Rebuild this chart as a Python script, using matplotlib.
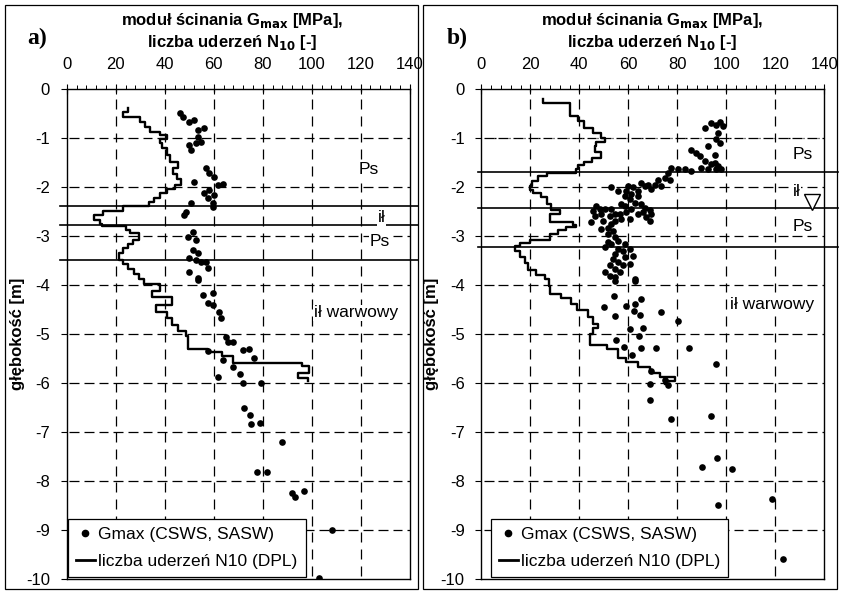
import numpy as np
import matplotlib
matplotlib.use("Agg")
import matplotlib.pyplot as plt
from matplotlib.lines import Line2D
from matplotlib.patches import Rectangle
from matplotlib.collections import LineCollection
from matplotlib.ticker import MultipleLocator

plt.rcParams['font.family'] = ['Liberation Sans', 'DejaVu Sans']
plt.rcParams['axes.unicode_minus'] = False

##### data (depth in m, positive downwards)
# panel a) DPL N10 profile: top of each step and its value
a_dpl_top = [0.39, 0.46, 0.58, 0.67, 0.77, 0.87, 0.94, 1.02, 1.10, 1.21, 1.35, 1.48, 1.62, 1.74,
             1.84, 1.95, 2.04, 2.12, 2.22, 2.30, 2.38, 2.48, 2.58, 2.68, 2.76, 2.80, 2.88, 2.94,
             3.08, 3.16, 3.24, 3.34, 3.48, 3.58, 3.68, 3.78, 3.88, 3.98, 4.12, 4.24, 4.40, 4.55,
             4.68, 4.82, 4.93, 5.04, 5.30, 5.37, 5.45, 5.59, 5.65, 5.80, 5.90]
a_dpl_n10 = [25, 23, 30, 32, 34, 38, 41, 38, 39, 41, 42, 45.5, 43.5, 45,
             46.5, 44, 41, 38, 35.5, 33.5, 23, 15, 11, 13.6, 14.5, 24, 26, 29.5,
             27, 25, 23, 21.5, 23, 25, 27.5, 29.5, 31.5, 38, 35, 43, 36.5, 41,
             43, 45.5, 48.5, 49.5, 57.5, 63.5, 68, 96, 99, 94.5, 98.5]
a_dpl_end = 5.96

# panel a) Gmax (CSWS, SASW)
a_gmax = [46.3, 47.5, 50, 52, 53.7, 56.1, 53.7, 54.9, 52.9, 50, 50.8, 57, 58.2, 60.2, 52, 61.9,
          63.9, 58.2, 56.1, 60.2, 57.8, 59.8, 50.8, 48.8, 48, 59.8, 51.6, 49.6, 52.9, 51.6, 53.7,
          50, 52.9, 54.9, 57, 57.8, 50, 53.7, 53.7, 55.7, 59.8, 57.8, 59.8, 62.3, 63.1, 65.2, 66,
          68, 72.1, 74.6, 76.6, 57.8, 63.9, 68, 70.9, 61.9, 72.1, 79.5, 72.5, 75, 75.4, 78.7,
          87.7, 77.5, 81.6, 91.8, 93, 96.7, 108.2, 102.8]
a_gmax_depth = [0.49, 0.57, 0.67, 0.63, 0.84, 0.80, 0.98, 1.08, 1.10, 1.14, 1.24, 1.61, 1.71, 1.80,
                1.90, 1.96, 1.94, 2.06, 2.12, 2.16, 2.22, 2.33, 2.33, 2.51, 2.57, 2.41, 2.92, 3.02,
                3.08, 3.29, 3.35, 3.45, 3.49, 3.53, 3.53, 3.65, 3.73, 3.86, 3.90, 4.20, 4.17, 4.37,
                4.41, 4.55, 4.67, 5.06, 5.16, 5.16, 5.33, 5.31, 5.49, 5.35, 5.53, 5.67, 5.82, 5.88,
                6.00, 6.00, 6.51, 6.65, 6.84, 6.82, 7.20, 7.82, 7.82, 8.25, 8.33, 8.20, 9.00, 9.98]

# panel a) layer boundaries and names
a_layers = [2.38, 2.78, 3.49]
a_layer_names = ['Ps', 'ił', 'Ps', 'ił warwowy']
a_name_x = [119, 127, 123.5, 101]
a_name_depth = [1.65, 2.62, 3.12, 4.57]

# panel b) DPL N10 profile
b_dpl_top = [0.20, 0.29, 0.56, 0.66, 0.80, 0.90, 1.00, 1.08, 1.17, 1.28, 1.40, 1.48, 1.56, 1.63,
             1.71, 1.78, 1.88, 1.98, 2.06, 2.13, 2.20, 2.35, 2.46, 2.56, 2.71, 2.77, 2.82, 2.88,
             2.96, 3.08, 3.14, 3.20, 3.30, 3.42, 3.56, 3.70, 3.80, 3.88, 4.02, 4.18, 4.26, 4.38,
             4.52, 4.66, 4.80, 4.88, 5.00, 5.22, 5.30, 5.48, 5.58, 5.68, 5.80, 5.88, 5.96]
b_dpl_n10 = [25, 36, 39.5, 42, 45.5, 49, 50.5, 47, 46.5, 49, 45, 42, 39.5, 38.5,
             27, 23, 20.5, 19.7, 21, 24.5, 27, 28.5, 32, 28, 37.5, 38.5, 34.5, 31.5,
             28, 20, 15.7, 13.6, 15.7, 17.7, 19.1, 22.5, 26, 27.5, 28, 32.5, 36.5, 39,
             43.5, 45.5, 47.5, 45.5, 44.2, 51.5, 55.8, 59, 64, 68.7, 72.8, 79, 75]
b_dpl_end = 6.02

# panel b) Gmax (CSWS, SASW)
b_gmax = [91.2, 93.9, 95.9, 97.3, 98.7, 96.6, 95.9, 97.3, 92.5, 85.7, 87.8, 89.1, 95.3, 91.2,
          93.9, 96.6, 89.8, 92.5, 95.9, 98.0, 95.3, 77.6, 80.3, 83.0, 85.7, 76.2, 74.9, 76.9,
          72.1, 70.8, 73.5, 68.0, 69.4, 65.3, 66.7, 64.0, 61.9, 59.9, 59.2, 61.2, 64.0, 58.5,
          55.8, 53.1, 60.6, 62.6, 65.3, 66.7, 68.7, 69.4, 66.0, 67.3, 68.7, 64.0, 61.2, 58.5,
          57.1, 59.2, 56.5, 60.6, 57.1, 54.4, 53.1, 50.4, 52.4, 54.4, 53.1, 51.7, 49.0, 48.3,
          46.9, 45.6, 46.3, 49.7, 44.9, 49.0, 53.8, 51.7, 54.4, 55.8, 53.1, 51.7, 50.4, 58.5,
          60.6, 57.8, 55.8, 54.4, 58.5, 61.9, 53.8, 55.8, 57.8, 60.6, 52.4, 54.4, 56.5, 50.4,
          52.4, 54.4, 62.6, 54.4, 62.6, 54.2, 65.3, 62.6, 59.2, 50.1, 62.3, 73.5, 54.4, 64.7,
          80.3, 60.8, 66.0, 64.4, 55.1, 58.2, 65.1, 71.4, 84.8, 61.5, 95.9, 69.4, 74.9, 76.2,
          68.7, 68.7, 93.9, 77.3, 96.3, 90.2, 102.2, 118.5, 96.7, 123.3]
b_gmax_depth = [0.80, 0.70, 0.73, 0.68, 0.76, 0.90, 1.03, 1.10, 1.17, 1.24, 1.30, 1.37, 1.34, 1.47,
                1.54, 1.58, 1.61, 1.64, 1.64, 1.64, 1.51, 1.61, 1.64, 1.64, 1.68, 1.71, 1.81, 1.85,
                1.85, 1.95, 1.98, 1.95, 2.05, 1.91, 1.98, 2.08, 2.01, 1.98, 2.08, 2.15, 2.18, 2.18,
                2.08, 2.01, 2.25, 2.32, 2.35, 2.42, 2.47, 2.56, 2.52, 2.62, 2.69, 2.56, 2.45, 2.39,
                2.35, 2.52, 2.56, 2.66, 2.66, 2.56, 2.45, 2.45, 2.59, 2.69, 2.76, 2.83, 2.56, 2.45,
                2.39, 2.49, 2.59, 2.69, 2.72, 2.86, 2.89, 2.96, 3.03, 3.10, 3.16, 3.13, 3.23, 3.16,
                3.27, 3.30, 3.27, 3.37, 3.43, 3.40, 3.47, 3.54, 3.60, 3.57, 3.60, 3.67, 3.74, 3.74,
                3.81, 3.84, 3.87, 3.91, 3.91, 4.23, 4.28, 4.38, 4.42, 4.45, 4.53, 4.55, 4.63, 4.62,
                4.74, 4.89, 4.87, 5.04, 5.12, 5.26, 5.29, 5.28, 5.28, 5.42, 5.62, 5.75, 5.94, 6.04,
                6.02, 6.34, 6.67, 6.73, 7.53, 7.71, 7.75, 8.36, 8.49, 9.59]

# panel b) layer boundaries, names and water table
b_layers = [1.70, 2.43, 3.22]
b_layer_names = ['Ps', 'ił', 'Ps', 'ił warwowy']
b_name_x = [127, 127, 127, 101.5]
b_name_depth = [1.34, 2.1, 2.8, 4.4]
b_water_x = 135
b_water_depth = 2.3

x_ticks = [0, 20, 40, 60, 80, 100, 120, 140]
y_ticks = [0, -1, -2, -3, -4, -5, -6, -7, -8, -9, -10]

W, H = 841, 591
fig = plt.figure(figsize=(W / 100, H / 100), dpi=100)


def step_profile(tops, values, end):
    """vertical segment at every N10 value, horizontal jumps between them"""
    bounds = np.array(tops + [end])
    xs = np.repeat(values, 2)
    ys = -np.column_stack([bounds[:-1], bounds[1:]]).ravel()
    return xs, ys


def dash_segments(lo, hi, on, off):
    """start/end of the dashes of one dashed line along [lo, hi]"""
    starts = np.arange(lo + off / 2, hi, on + off)
    ends = np.minimum(starts + on, hi)
    return starts, ends


def panel(rect, dpl_top, dpl_n, dpl_end, gx, gd, layers, names, nx_, nd_, xline, leg_x0,
          dashdot_at=None):
    ax = fig.add_axes(rect)
    ax.set_xlim(0, 140)
    ax.set_ylim(-10, 0)
    ax.xaxis.tick_top()
    ax.set_xticks(x_ticks)
    ax.set_yticks(y_ticks)
    ax.set_yticklabels([str(v) for v in y_ticks])
    ax.xaxis.set_minor_locator(MultipleLocator(4))
    ax.tick_params(axis='x', which='major', direction='inout', length=7, width=0.8,
                   labelsize=12, pad=9)
    ax.tick_params(axis='x', which='minor', direction='out', length=3, width=0.7)
    ax.tick_params(axis='y', direction='out', length=4, width=0.8, labelsize=12, pad=8)
    for s in ax.spines.values():
        s.set_linewidth(1.0)

    # dashed grid, built from short solid pieces
    segs = []
    s0, s1 = dash_segments(-10, 0, 0.2, 0.14)          # vertical lines, depth units
    for v in x_ticks[1:-1]:
        segs += [[(v, a), (v, b)] for a, b in zip(s0, s1)]
    h0, h1 = dash_segments(0, 140, 4.0, 2.0)           # horizontal lines, x units
    d0, d1 = dash_segments(0, 140, 3.0, 1.0)
    for v in y_ticks[1:-1]:
        segs += [[(a, v), (b, v)] for a, b in zip(h0, h1)]
        if v == dashdot_at:
            # printed dash-dot: add the short dots in the gaps
            segs += [[(b + 0.3, v), (b + 0.8, v)] for b in h1]
    ax.add_collection(LineCollection(segs, colors='black', linewidths=0.9, zorder=1.5))

    xs, ys = step_profile(dpl_top, dpl_n, dpl_end)
    ax.plot(xs, ys, color='black', linewidth=1.7, zorder=3)
    ax.plot(gx, -np.array(gd), 'o', color='black', markersize=4.8, markeredgewidth=0, zorder=4)

    for d in layers:
        ax.axhline(-d, xmin=xline[0], xmax=xline[1], color='black', linewidth=1.2,
                   clip_on=False, zorder=2)
    for t, x, d in zip(names, nx_, nd_):
        ax.text(x, -d, t, fontsize=12.5, ha='left', va='center', zorder=5,
                bbox=dict(facecolor='white', edgecolor='none', pad=0.5))

    ax.set_ylabel('głębokość [m]', fontsize=12, fontweight='bold', labelpad=1)

    handles = [Line2D([], [], marker='o', linestyle='none', color='black', markersize=4.5),
               Line2D([], [], color='black', linewidth=2)]
    leg = ax.legend(handles, ['Gmax (CSWS, SASW)', 'liczba uderzeń N10 (DPL)'],
                    loc='lower left', bbox_to_anchor=(leg_x0, 0.004), fontsize=12.5,
                    frameon=True, fancybox=False, framealpha=1, edgecolor='black',
                    handlelength=1.1, handletextpad=0.2, labelspacing=0.7,
                    borderpad=0.45, borderaxespad=0)
    leg.get_frame().set_linewidth(0.9)
    leg.set_zorder(6)
    return ax


ax_a = panel([66.7 / W, 12 / H, 343 / W, 490 / H], a_dpl_top, a_dpl_n10, a_dpl_end,
             a_gmax, a_gmax_depth, a_layers, a_layer_names, a_name_x, a_name_depth,
             (-0.02, 1.025), 0.004)
ax_b = panel([481.3 / W, 12 / H, 343 / W, 490 / H], b_dpl_top, b_dpl_n10, b_dpl_end,
             b_gmax, b_gmax_depth, b_layers, b_layer_names, b_name_x, b_name_depth,
             (-0.01, 1.04), 0.028, dashdot_at=-1)

# water table marker in b)
ax_b.plot(b_water_x, -b_water_depth, marker='v', markersize=11, markerfacecolor='white',
          markeredgecolor='black', markeredgewidth=1.0, linestyle='none', zorder=6)

# titles above each panel
for cx in [232, 652]:
    fig.text(cx / W, 1 - 21 / H, 'moduł ścinania G$_{\\mathbf{max}}$ [MPa],', ha='center',
             va='center', fontsize=12, fontweight='bold')
    fig.text(cx / W, 1 - 42 / H, 'liczba uderzeń N$_{\\mathbf{10}}$ [-]', ha='center',
             va='center', fontsize=12, fontweight='bold')
fig.text(37 / W, 1 - 38 / H, 'a)', ha='center', va='center', fontsize=17, fontweight='bold',
         family='Liberation Serif')
fig.text(457 / W, 1 - 38 / H, 'b)', ha='center', va='center', fontsize=17, fontweight='bold',
         family='Liberation Serif')

# frames around the two panels
fig.add_artist(Rectangle((5 / W, 2 / H), 413 / W, 584 / H, transform=fig.transFigure,
                         fill=False, edgecolor='black', linewidth=0.9))
fig.add_artist(Rectangle((423 / W, 2 / H), 414 / W, 584 / H, transform=fig.transFigure,
                         fill=False, edgecolor='black', linewidth=0.9))

fig.savefig('out.png', dpi=100)
